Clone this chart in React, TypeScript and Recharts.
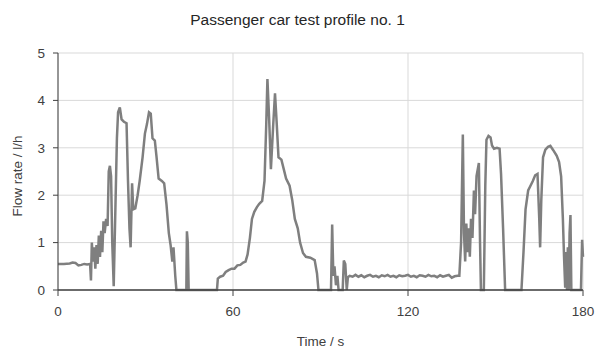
import { LineChart, Line, XAxis, YAxis, CartesianGrid, ReferenceLine } from 'recharts'

// Time in s and flow rate in l/h
const timeS = [
  0, 2, 4, 5, 6, 7, 8, 9, 10, 11,
  11.3, 11.6, 12, 12.4, 12.8, 13.2, 13.6, 14, 14.4, 14.8, 15.2, 15.6, 16, 16.5, 17,
  17.4, 17.8, 18.2, 18.6, 19.1, 19.6, 20.2, 20.6, 21.2, 21.8, 22.6, 23.5, 24, 24.5, 24.9,
  25.4, 25.8, 26.5, 27.3, 28, 29, 29.8, 30.5, 31.2, 31.8, 32.4, 33.2, 33.8, 34.5, 35.6,
  36.4, 37.2, 38, 38.6, 39.2, 39.6, 40.2, 40.6, 44, 44.2, 44.5, 44.8,
  54.5, 54.8, 55.6, 56.6, 57.5, 58.5, 59.5, 60.5, 61.5, 62.5, 63.5, 64.3, 65, 65.8, 66.5,
  67.3, 68.2, 69, 70, 70.8, 71.4, 71.8, 72.4, 73, 73.8, 74.4, 75, 75.6, 76.6, 77.4, 78.2,
  79.4, 80.3, 81.2, 82.2, 83, 84, 85, 86.5, 88, 88.8, 89.3,
  93.6, 94, 94.4, 94.8, 95.3, 95.8, 96.2, 97.6, 98, 98.5, 99, 99.4,
  100, 101, 102, 103, 104, 105, 106, 107, 108, 109, 110, 111, 112, 113, 114, 115, 116,
  117, 118, 119, 120, 121, 122, 123, 124, 125, 126, 127, 128, 129, 130, 131, 132, 133,
  134, 135, 136, 137, 137.6,
  138.2, 138.8, 139.2, 139.6, 140, 140.4, 140.8, 141.2, 141.6, 142.1, 142.6, 143, 143.5,
  144.3, 144.7, 145, 146, 146.5, 146.9, 147.6, 148.3, 148.8, 149.5, 150.5, 151.4, 151.9,
  152.6, 153.3, 158.9, 159.6, 160.3, 161.2, 162, 162.8, 163.6, 164.4, 165, 165.3, 165.7,
  166.3, 167.1, 168, 168.8, 169.8, 171, 171.8, 172.5, 173.1, 173.5, 173.9, 174.2, 174.5,
  174.8, 175.1, 175.4, 175.7, 176, 179.3, 179.7, 180,
]

const flowLh = [
  0.55, 0.55, 0.56, 0.58, 0.57, 0.52, 0.53, 0.55, 0.54, 0.55,
  0.2, 1.0, 0.6, 0.9, 0.45, 0.95, 0.55, 1.15, 0.7, 1.25, 0.8, 1.45, 1.2, 1.5, 1.35,
  2.5, 2.62, 2.4, 1.0, 0.08, 1.5, 3.2, 3.75, 3.85, 3.6, 3.55, 3.52, 2.3, 1.3, 0.9,
  2.25, 1.7, 1.72, 2.0, 2.3, 2.8, 3.3, 3.5, 3.75, 3.72, 3.2, 3.15, 2.8, 2.35, 2.3,
  2.25, 1.8, 1.2, 0.95, 0.6, 0.9, 0.3, 0, 0, 1.24, 1.0, 0,
  0, 0.24, 0.28, 0.3, 0.38, 0.42, 0.45, 0.45, 0.52, 0.53, 0.58, 0.6, 0.75, 1.1, 1.5,
  1.65, 1.75, 1.82, 1.88, 2.3, 3.5, 4.45, 3.6, 2.55, 3.5, 4.15, 3.5, 2.8, 2.75, 2.55, 2.35,
  2.2, 1.9, 1.5, 1.3, 1.0, 0.78, 0.7, 0.68, 0.63, 0.35, 0,
  0, 1.38, 0.3, 0.5, 0.1, 0.3, 0, 0, 0.62, 0.55, 0, 0.27,
  0.3, 0.28, 0.32, 0.28, 0.31, 0.27, 0.3, 0.32, 0.28, 0.3, 0.27, 0.31, 0.29, 0.32, 0.28, 0.3, 0.27,
  0.31, 0.29, 0.3, 0.32, 0.28, 0.3, 0.27, 0.31, 0.3, 0.28, 0.32, 0.29, 0.3, 0.27, 0.31, 0.28, 0.3,
  0.32, 0.26, 0.29, 0.3, 0.3,
  1.0, 3.28, 1.2, 0.6, 1.4, 0.8, 1.3, 0.7, 1.5, 1.1, 2.1, 1.6, 2.4,
  2.68, 1.0, 0, 0, 2.2, 3.17, 3.25, 3.22, 3.05, 2.98, 3.0, 2.98, 2.45,
  1.3, 0, 0, 0.8, 1.7, 2.1, 2.2, 2.3, 2.42, 2.45, 1.5, 0.9, 1.9,
  2.8, 2.96, 3.02, 3.04, 2.95, 2.83, 2.7, 2.4, 1.5, 0.7, 0.05, 0.8, 0,
  0.9, 0, 1.2, 1.58, 0, 0, 1.06, 0.7,
]

const xTicks = [0, 60, 120, 180]
const yTicks = [0, 1, 2, 3, 4, 5]

const data = timeS.map((t, i) => ({ t, flow: flowLh[i] }))

const font = '"Liberation Sans", Arial, sans-serif'
const tickStyle = { fontSize: 13.5, fill: '#404040', fontFamily: font }

export default function App() {
  return (
    <div style={{ position: 'absolute', left: 0, top: 0, width: 595, height: 349, background: '#fff' }}>
      <div
        style={{
          position: 'absolute',
          top: 11,
          left: 0,
          width: 595,
          textAlign: 'center',
          fontFamily: font,
          fontSize: 15.5,
          color: '#262626',
        }}
      >
        Passenger car test profile no. 1
      </div>
      <LineChart
        width={595}
        height={349}
        data={data}
        margin={{ top: 53, right: 12, left: 27, bottom: 29 }}
      >
        <CartesianGrid stroke="#d9d9d9" strokeWidth={1} />
        <XAxis
          dataKey="t"
          type="number"
          domain={[0, 180]}
          ticks={xTicks}
          height={30}
          stroke="#404040"
          tickSize={6}
          tick={tickStyle}
          tickMargin={10}
          label={{ value: 'Time / s', position: 'insideBottom', offset: -26, style: tickStyle }}
        />
        <YAxis
          type="number"
          domain={[0, 5]}
          ticks={yTicks}
          width={31}
          stroke="#404040"
          tickSize={5}
          tick={tickStyle}
          tickMargin={8}
          label={{
            value: 'Flow rate / l/h',
            angle: -90,
            position: 'insideLeft',
            offset: -10,
            dy: 45,
            style: tickStyle,
          }}
        />
        <Line
          type="linear"
          dataKey="flow"
          stroke="#7f7f7f"
          strokeWidth={2.5}
          dot={false}
          isAnimationActive={false}
        />
        <ReferenceLine y={0} stroke="#404040" strokeWidth={1} />
      </LineChart>
    </div>
  )
}
